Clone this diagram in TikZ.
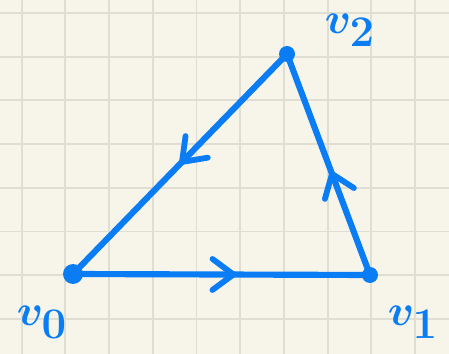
\documentclass[tikz,border=0pt]{standalone}
\usetikzlibrary{arrows.meta,decorations.markings}
\definecolor{paper}{RGB}{247,245,234}
\definecolor{gridgray}{RGB}{224,222,210}
\definecolor{penblue}{RGB}{10,125,245}
\begin{document}
\begin{tikzpicture}[
    x=0.02cm, y=-0.02cm,
    % Styles
    vertex/.style={circle, fill=penblue, inner sep=0pt, minimum size=0.32cm},
    edge/.style={draw=penblue, line width=3.5pt, line cap=round},
    midarrow/.style={postaction={decorate}, decoration={markings,
        mark=at position #1 with {\arrow[penblue]{Straight Barb[length=0.42cm, width=0.62cm, line width=3.3pt, round]}}}},
    vlabel/.style={text=penblue, font=\fontsize{38}{40}\selectfont\boldmath}
  ]

    % --- Paper and grid ---
    \fill[paper] (0,0) rectangle (449,354);
    \useasboundingbox (0,0) rectangle (449,354);
    \foreach \k in {0,...,9} {
        \draw[gridgray, line width=1.1pt] (21.7+43.7*\k,0) -- (21.7+43.7*\k,354);
    }
    \foreach \k in {0,...,7} {
        \draw[gridgray, line width=1.1pt] (0,13+43.7*\k) -- (449,13+43.7*\k);
    }

    % --- Vertices ---
    \node (v0) [vertex, minimum size=0.4cm] at (73,274) {};
    \node (v1) [vertex] at (370,275) {};
    \node (v2) [vertex] at (287,54) {};

    % --- Edges ---
    \draw[edge, midarrow=0.55] (v0.center) -- (v1.center);
    \draw[edge, midarrow=0.47] (v1.center) -- (v2.center);
    \draw[edge, midarrow=0.5] (v2.center) -- (v0.center);

    % --- Labels ---
    \node[vlabel] at (42,322) {$v_0$};
    \node[vlabel] at (413,322) {$v_1$};
    \node[vlabel] at (350,30) {$v_2$};

  \end{tikzpicture}
\end{document}
